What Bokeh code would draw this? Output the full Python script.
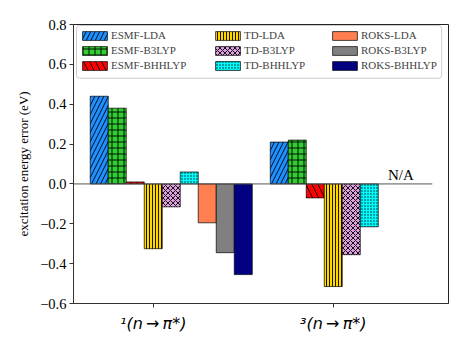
from bokeh.plotting import figure
from bokeh.models import Range1d, FixedTicker, Legend, LegendItem, ColumnDataSource, BoxAnnotation
from bokeh.core.properties import value
from bokeh.embed import file_html
from bokeh.resources import INLINE

groups = ["\u00b9(n\u2009\u2192\u2009\u03c0*)", "\u00b3(n\u2009\u2192\u2009\u03c0*)"]
series = ["ESMF-LDA", "ESMF-B3LYP", "ESMF-BHHLYP",
          "TD-LDA", "TD-B3LYP", "TD-BHHLYP",
          "ROKS-LDA", "ROKS-B3LYP", "ROKS-BHHLYP"]
esmf_lda = [0.44, 0.21]
esmf_b3lyp = [0.38, 0.22]
esmf_bhhlyp = [0.01, -0.07]
td_lda = [-0.325, -0.515]
td_b3lyp = [-0.115, -0.355]
td_bhhlyp = [0.06, -0.215]
roks_lda = [-0.195, None]
roks_b3lyp = [-0.345, None]
roks_bhhlyp = [-0.455, None]
values = [esmf_lda, esmf_b3lyp, esmf_bhhlyp, td_lda, td_b3lyp, td_bhhlyp,
          roks_lda, roks_b3lyp, roks_bhhlyp]
colors = ["#1E90FF", "#32CD32", "#FF0000", "#FFD700", "#DDA0DD", "#00FFFF",
          "#FF7F50", "#808080", "#000080"]
hatches = ["/", "+", "\\", "|", "x", ".", " ", " ", " "]
hatch_scales = [9, 6, 12, 3, 5, 3, 12, 12, 12]
y_ticks = [-0.6, -0.4, -0.2, 0.0, 0.2, 0.4, 0.6, 0.8]
y_labels = ["\u22120.6", "\u22120.4", "\u22120.2", "0.0", "0.2", "0.4", "0.6", "0.8"]
na_text = "N/A"
bar_w = 0.1

p = figure(width=453, height=335, output_backend="svg", toolbar_location=None,
           x_range=Range1d(-0.443, 1.64), y_range=Range1d(-0.6, 0.8),
           min_border_left=73, min_border_top=24, min_border_right=5, min_border_bottom=30)
p.xgrid.visible = False
p.ygrid.visible = False
p.outline_line_color = "#222222"
p.outline_line_width = 1
p.outline_line_alpha = 1.0

renderers = []
for i, (name, vals) in enumerate(zip(series, values)):
    xs, tops = [], []
    for g, v in enumerate(vals):
        if v is not None:
            xs.append(g + (i - 3) * bar_w)
            tops.append(v)
    src = ColumnDataSource(dict(x=xs, top=tops))
    r = p.vbar(x="x", top="top", bottom=0, width=bar_w, source=src,
               fill_color=colors[i], line_color="black", line_alpha=0.7, line_width=1,
               hatch_pattern=hatches[i], hatch_color="black", hatch_scale=hatch_scales[i],
               hatch_weight=1, hatch_alpha=0.9)
    renderers.append(r)

# N/A baseline and text
p.segment(x0=[-0.443], y0=[0], x1=[1.55], y1=[0], line_color="#555555", line_width=1)
p.text(x=[1.375], y=[0.045], text=[na_text], text_align="center", text_baseline="alphabetic",
       text_font=value("Liberation Serif"), text_font_size="15px", text_color="black")

# legend frame (three legend columns share one frame)
frame = BoxAnnotation(left=-0.426, right=1.602, bottom=0.53, top=0.795,
                      fill_color="white", fill_alpha=0.8, line_color="#cccccc",
                      line_width=1, line_alpha=1.0, border_radius=3)
p.add_layout(frame)

col_x = [6, 139, 256]
for c in range(3):
    its = [LegendItem(label=series[3 * c + k], renderers=[renderers[3 * c + k]]) for k in range(3)]
    lg = Legend(items=its, location=(col_x[c], 232), orientation="vertical",
                glyph_width=31, glyph_height=11, label_standoff=1, spacing=3,
                label_text_font="Liberation Serif", label_text_font_size="11px",
                label_height=11, padding=0, margin=0,
                border_line_color=None, background_fill_alpha=0.0)
    p.add_layout(lg, "center")

p.yaxis.ticker = FixedTicker(ticks=y_ticks)
p.yaxis.major_label_overrides = {t: l for t, l in zip(y_ticks, y_labels)}
p.yaxis.axis_label = "excitation energy error (eV)"
p.yaxis.axis_label_text_font = "Liberation Serif"
p.yaxis.axis_label_text_font_style = "normal"
p.yaxis.axis_label_text_font_size = "13px"
p.yaxis.axis_label_text_color = "black"
p.yaxis.axis_label_standoff = 6
p.yaxis.major_label_text_font = "Liberation Serif"
p.yaxis.major_label_text_font_size = "14.5px"
p.xaxis.ticker = FixedTicker(ticks=[0, 1])
p.xaxis.major_label_overrides = {0: groups[0], 1: groups[1]}
p.xaxis.major_label_text_font = "DejaVu Sans"
p.xaxis.major_label_text_font_style = "italic"
p.xaxis.major_label_text_font_size = "16px"
for ax in (p.xaxis, p.yaxis):
    ax.minor_tick_line_color = None
    ax.major_tick_in = 0
    ax.major_tick_out = 4
    ax.axis_line_color = "#333333"
    ax.major_tick_line_color = "#333333"
    ax.major_label_standoff = 3
    ax.major_label_text_color = "black"
p.xaxis.major_label_standoff = 6

open("out.html", "w").write(file_html(p, INLINE))
